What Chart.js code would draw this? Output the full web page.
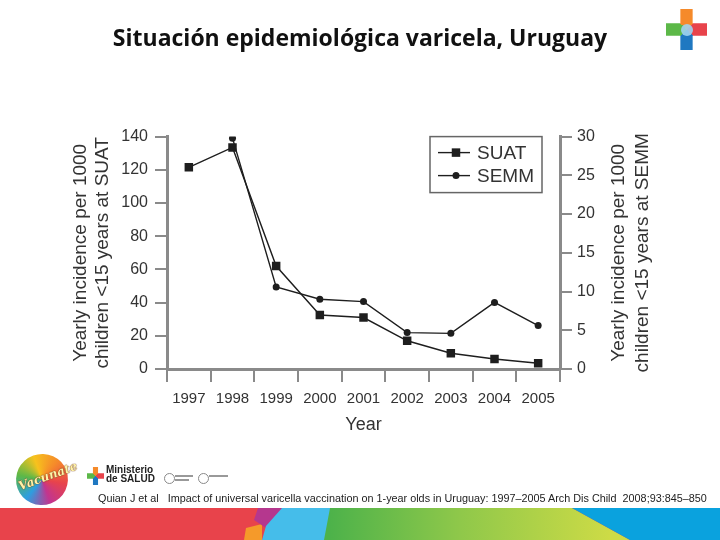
<!DOCTYPE html>
<html>
<head>
<meta charset="utf-8">
<script src="https://cdn.jsdelivr.net/npm/chart.js@4"></script>
<style>
  html, body { margin: 0; padding: 0; background: #fff; }
  #wrap { position: relative; width: 720px; height: 540px; overflow: hidden; background: #fff; }
  #chart { position: absolute; left: 0; top: 0; }
  .abs { position: absolute; }
  #cite { left: 98px; top: 492px; font: 11px "Liberation Sans Narrow", "Liberation Sans", sans-serif; color: #222; white-space: pre; transform-origin: 0 0; }
  #band { left: 0; top: 508px; width: 720px; height: 32px; background: #e8434b; }
  #band div { position: absolute; left: 0; top: 0; width: 720px; height: 32px; }
  .plus { clip-path: polygon(35% 0, 65% 0, 65% 35%, 100% 35%, 100% 65%, 65% 65%, 65% 100%, 35% 100%, 35% 65%, 0 65%, 0 35%, 35% 35%); }
</style>
</head>
<body>
<div id="wrap">
  <canvas id="chart" width="720" height="540"></canvas>

  <!-- top right cross logo -->
  <div class="abs plus" style="left:666px;top:9px;width:41px;height:41px;background:conic-gradient(from -45deg,#f58a2a 0 25%,#e8434b 25% 50%,#1f78c1 50% 75%,#5cb848 75% 100%);"></div>
  <div class="abs" style="left:681px;top:24px;width:12px;height:12px;border-radius:50%;background:#9fd3ee;opacity:.9"></div>

  <!-- bottom left logos -->
  <div class="abs" style="left:16px;top:454px;width:52px;height:51px;border-radius:50%;transform:rotate(-20deg);background:conic-gradient(#f7c21d,#f58a2a,#e8434b,#c2358f,#2d9ee0,#5cb848,#f7c21d);"></div>
  <div class="abs" style="left:17px;top:469px;font:italic bold 12px 'DejaVu Serif',serif;color:#fff3a8;transform:rotate(-20deg);text-shadow:0 0 1px #6a3010,0 0 1px #6a3010;">Vacunate</div>
  <div class="abs plus" style="left:87px;top:467px;width:17px;height:18px;background:conic-gradient(from -45deg,#f58a2a 0 25%,#e8434b 25% 50%,#1f78c1 50% 75%,#5cb848 75% 100%);"></div>
  <div class="abs" style="left:106px;top:465px;font:bold 10px 'Liberation Sans',sans-serif;color:#222;line-height:9px;">Ministerio<br>de SALUD</div>
  <div class="abs" style="left:164px;top:473px;width:9px;height:9px;border:1px solid #888;border-radius:50%;"></div>
  <div class="abs" style="left:175px;top:475px;width:18px;height:2px;background:#999;"></div>
  <div class="abs" style="left:175px;top:479px;width:14px;height:2px;background:#999;"></div>
  <div class="abs" style="left:198px;top:473px;width:9px;height:9px;border:1px solid #888;border-radius:50%;"></div>
  <div class="abs" style="left:209px;top:475px;width:19px;height:2px;background:#999;"></div>

  <div id="cite" class="abs">Quian J et al   Impact of universal varicella vaccination on 1-year olds in Uruguay: 1997–2005 Arch Dis Child  2008;93:845–850</div>

  <!-- coloured band -->
  <div id="band" class="abs">
    <div style="background:#f59a2a;clip-path:polygon(246px 20px,262px 16px,262px 32px,244px 32px);"></div>
    <div style="background:#b5378e;clip-path:polygon(258px 0,284px 0,266px 20px,254px 12px);"></div>
    <div style="background:#45bdea;clip-path:polygon(282px 0,332px 0,326px 32px,262px 32px,266px 18px);"></div>
    <div style="background:linear-gradient(90deg,#4db24a 330px,#8fc84a 460px,#cddb46 610px);clip-path:polygon(330px 0,572px 0,630px 32px,324px 32px);"></div>
    <div style="background:#0aa2de;clip-path:polygon(572px 0,720px 0,720px 32px,630px 32px);"></div>
  </div>
</div>

<script>
// values
const years = ['1997', '1998', '1999', '2000', '2001', '2002', '2003', '2004', '2005'];
const suat = [121.5, 133.5, 62, 32.5, 31, 17, 9.5, 6, 3.5];     // left axis
const semm = [null, 29.8, 10.6, 9.0, 8.7, 4.7, 4.6, 8.6, 5.6];   // right axis
const leftMax = 140, leftStep = 20;
const rightMax = 30, rightStep = 5;

const axisGray = '#8a8a8a';
const textGray = '#333';
const font = 'Liberation Sans';

// legend in a bordered box, top right of the plot
const legendBox = {
  id: 'legendBox',
  afterDatasetsDraw(chart) {
    const ctx = chart.ctx, ca = chart.chartArea;
    const w = 112, h = 56;
    const x = ca.right - 18 - w, y = ca.top;
    ctx.save();
    ctx.fillStyle = '#fff';
    ctx.fillRect(x, y, w, h);
    ctx.strokeStyle = '#666';
    ctx.lineWidth = 1.5;
    ctx.strokeRect(x, y, w, h);
    chart.data.datasets.forEach((ds, i) => {
      const cy = y + 16 + i * 23;
      ctx.strokeStyle = ds.borderColor;
      ctx.lineWidth = ds.borderWidth;
      ctx.beginPath();
      ctx.moveTo(x + 8, cy);
      ctx.lineTo(x + 40, cy);
      ctx.stroke();
      ctx.fillStyle = ds.pointBackgroundColor;
      if (ds.pointStyle === 'rect') {
        const s = ds.pointRadius * Math.SQRT1_2;
        ctx.fillRect(x + 26 - s, cy - s, 2 * s, 2 * s);
      } else {
        ctx.beginPath();
        ctx.arc(x + 26, cy, ds.pointRadius, 0, Math.PI * 2);
        ctx.fill();
      }
      ctx.fillStyle = textGray;
      ctx.font = '19px "' + font + '"';
      ctx.textBaseline = 'middle';
      ctx.fillText(ds.label, x + 47, cy + 1);
    });
    ctx.restore();
  }
};

// right axis title reads bottom-to-top like the left one
const rightTitle = {
  id: 'rightTitle',
  afterDraw(chart) {
    const s = chart.scales.y1, ca = chart.chartArea;
    const ctx = chart.ctx;
    ctx.save();
    ctx.translate(s.left + 59, (ca.top + ca.bottom) / 2);
    ctx.rotate(-Math.PI / 2);
    ctx.fillStyle = textGray;
    ctx.font = '19px "' + font + '"';
    ctx.textAlign = 'center';
    ctx.textBaseline = 'middle';
    ctx.fillText('Yearly incidence per 1000', 0, 0);
    ctx.fillText('children <15 years at SEMM', 0, 24);
    ctx.restore();
  }
};

new Chart(document.getElementById('chart'), {
  type: 'line',
  data: {
    labels: years,
    datasets: [
      {
        label: 'SUAT',
        data: suat,
        yAxisID: 'y',
        borderColor: '#1e1e1e',
        borderWidth: 1.4,
        pointStyle: 'rect',
        pointRadius: 6,
        pointBackgroundColor: '#1e1e1e',
        pointBorderWidth: 0,
        tension: 0
      },
      {
        label: 'SEMM',
        data: semm,
        yAxisID: 'y1',
        borderColor: '#1e1e1e',
        borderWidth: 1.4,
        pointStyle: 'circle',
        pointRadius: 3.5,
        pointBackgroundColor: '#1e1e1e',
        pointBorderWidth: 0,
        tension: 0
      }
    ]
  },
  options: {
    responsive: false,
    animation: false,
    layout: { padding: { top: 0, left: 0, right: 0, bottom: 100 } },
    plugins: {
      legend: { display: false },
      tooltip: { enabled: false },
      title: {
        display: true,
        text: 'Situación epidemiológica varicela, Uruguay',
        color: '#111',
        font: { family: 'Open Sans', size: 23, weight: 'bold' },
        padding: { top: 26, bottom: 83 }
      }
    },
    scales: {
      x: {
        offset: true,
        grid: { offset: true, drawOnChartArea: false, tickLength: 13, color: axisGray, lineWidth: 2 },
        border: { color: axisGray, width: 3 },
        ticks: { color: textGray, font: { family: font, size: 15 }, padding: 8, maxRotation: 0, autoSkip: false },
        title: { display: true, text: 'Year', color: textGray, font: { family: font, size: 18 }, padding: { top: 4, bottom: 4 } },
        afterFit(s) { s.height = 71; }
      },
      y: {
        position: 'left',
        min: 0,
        max: leftMax,
        grid: { drawOnChartArea: false, tickLength: 12, color: axisGray, lineWidth: 2 },
        border: { color: axisGray, width: 3 },
        ticks: { stepSize: leftStep, color: textGray, font: { family: font, size: 16 }, padding: 7 },
        title: {
          display: true,
          text: ['Yearly incidence per 1000', 'children <15 years at SUAT'],
          color: textGray,
          font: { family: font, size: 19 },
          padding: { top: 69, bottom: 0 }
        },
        afterFit(s) { s.width = 167; }
      },
      y1: {
        position: 'right',
        min: 0,
        max: rightMax,
        grid: { drawOnChartArea: false, tickLength: 12, color: axisGray, lineWidth: 2 },
        border: { color: axisGray, width: 3 },
        ticks: { stepSize: rightStep, color: textGray, font: { family: font, size: 16 }, padding: 5 },
        afterFit(s) { s.width = 160; }
      }
    }
  },
  plugins: [legendBox, rightTitle]
});

// fit the citation line to the width it has on the slide
const cite = document.getElementById('cite');
cite.style.transform = 'scaleX(' + (609 / cite.offsetWidth) + ')';
</script>
</body>
</html>
